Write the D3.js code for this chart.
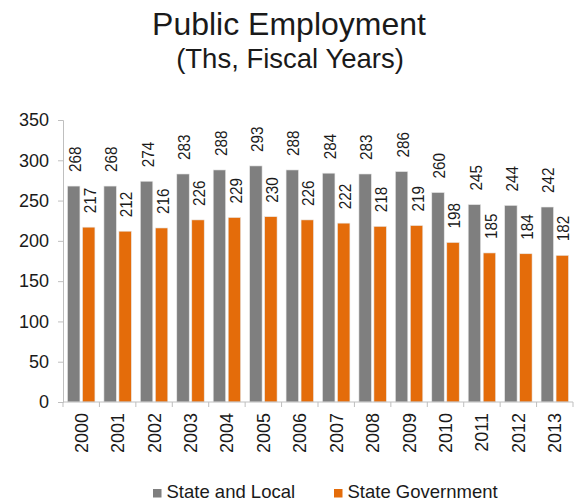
<!DOCTYPE html>
<html>
<head>
<meta charset="utf-8">
<script src="https://cdn.jsdelivr.net/npm/d3@7/dist/d3.min.js"></script>
<style>
  html, body { margin: 0; padding: 0; background: #ffffff; }
  svg { display: block; font-family: "Liberation Sans", Arial, sans-serif; }
</style>
</head>
<body>
<svg id="chart" width="578" height="501"></svg>
<script>
// Public employment, thousands, by fiscal year
const years = ["2000","2001","2002","2003","2004","2005","2006","2007","2008","2009","2010","2011","2012","2013"];
const stateAndLocal = [268, 268, 274, 283, 288, 293, 288, 284, 283, 286, 260, 245, 244, 242];
const stateGovernment = [217, 212, 216, 226, 229, 230, 226, 222, 218, 219, 198, 185, 184, 182];
const seriesNames = ["State and Local", "State Government"];
const seriesColors = ["#7f7f7f", "#e46c0a"];
const yTicks = [0, 50, 100, 150, 200, 250, 300, 350];

const svg = d3.select("#chart");
const plot = { left: 63, right: 573, top: 120, bottom: 402 };
const textColor = "#1a1a1a";
const axisColor = "#bfbfbf";

const x = d3.scaleBand().domain(years).range([plot.left, plot.right]).padding(0);
const xInner = d3.scaleBand().domain([0, 1]).range([0, x.bandwidth()])
  .paddingInner(0.17).paddingOuter(0.3);
const y = d3.scaleLinear().domain([0, 350]).range([plot.bottom, plot.top]);

// Titles
svg.append("text").attr("x", 289).attr("y", 35).attr("text-anchor", "middle")
  .attr("font-size", 32).attr("fill", textColor).text("Public Employment");
svg.append("text").attr("x", 290).attr("y", 68).attr("text-anchor", "middle")
  .attr("font-size", 27.5).attr("fill", textColor).text("(Ths, Fiscal Years)");

// Bars and value labels (labels are slightly condensed along their length)
const series = [stateAndLocal, stateGovernment];
series.forEach((vals, si) => {
  const g = svg.append("g");
  g.selectAll("rect").data(vals).join("rect")
    .attr("x", (d, i) => x(years[i]) + xInner(si))
    .attr("width", xInner.bandwidth())
    .attr("y", d => y(d))
    .attr("height", d => y(0) - y(d))
    .attr("fill", seriesColors[si])
    .attr("stroke", "#e8e8e8")
    .attr("stroke-width", 0.6);
  g.selectAll("text").data(vals).join("text")
    .attr("transform", (d, i) => {
      const cx = x(years[i]) + xInner(si) + xInner.bandwidth() / 2 + 1;
      return `translate(${cx},${y(d) - 14}) rotate(-90) scale(0.9,1)`;
    })
    .attr("dy", "0.36em")
    .attr("text-anchor", "start")
    .attr("font-size", 17)
    .attr("fill", textColor)
    .text(d => d);
});

// Y axis
const yAxis = svg.append("g").attr("transform", `translate(${plot.left},0)`)
  .call(d3.axisLeft(y).tickValues(yTicks).tickSize(5).tickPadding(9));
yAxis.select(".domain").attr("stroke", axisColor);
yAxis.selectAll(".tick line").attr("stroke", axisColor);
yAxis.selectAll(".tick text").attr("font-size", 18).attr("fill", textColor)
  .attr("font-family", "Liberation Sans, Arial, sans-serif");

// X axis: tick marks sit on category boundaries
const xAxisG = svg.append("g").attr("transform", `translate(0,${plot.bottom})`);
xAxisG.append("line").attr("x1", plot.left).attr("x2", plot.right)
  .attr("y1", 0).attr("y2", 0).attr("stroke", axisColor);
const boundaries = years.map(d => x(d)).concat([plot.right]);
xAxisG.selectAll("line.tk").data(boundaries).join("line").attr("class", "tk")
  .attr("x1", d => d).attr("x2", d => d).attr("y1", 0).attr("y2", 5)
  .attr("stroke", axisColor);
xAxisG.selectAll("text").data(years).join("text")
  .attr("transform", d => `translate(${x(d) + x.bandwidth() / 2},11) rotate(-90)`)
  .attr("dy", "0.36em")
  .attr("text-anchor", "end")
  .attr("font-size", 18)
  .attr("fill", textColor)
  .text(d => d);

// Legend
const legendX = [153, 334];
seriesNames.forEach((name, i) => {
  svg.append("rect").attr("x", legendX[i]).attr("y", 489).attr("width", 8.5).attr("height", 8.5)
    .attr("fill", seriesColors[i]);
  svg.append("text").attr("x", legendX[i] + 13.5).attr("y", 497.5)
    .attr("font-size", 18.5).attr("fill", textColor).text(name);
});
</script>
</body>
</html>
